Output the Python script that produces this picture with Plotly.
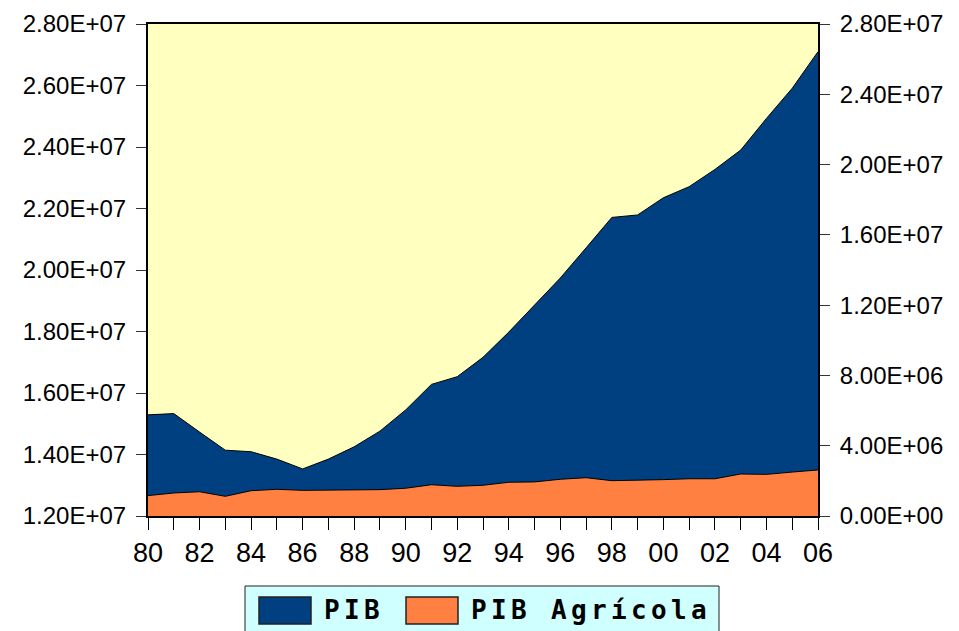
import plotly.graph_objects as go

# datos
anios = list(range(1980, 2007))
pib = [15.29, 15.33, 14.73, 14.14, 14.09, 13.85, 13.53, 13.85, 14.25, 14.76,
       15.45, 16.28, 16.53, 17.16, 17.98, 18.86, 19.74, 20.72, 21.71, 21.79,
       22.35, 22.71, 23.27, 23.90, 24.93, 25.91, 27.10]
pib_agricola = [1.16, 1.31, 1.38, 1.12, 1.44, 1.52, 1.46, 1.48, 1.50, 1.50,
                1.58, 1.78, 1.69, 1.75, 1.92, 1.94, 2.09, 2.18, 2.01, 2.03,
                2.07, 2.12, 2.12, 2.39, 2.37, 2.50, 2.62]
pib = [v * 1e6 for v in pib]
pib_agricola = [v * 1e6 for v in pib_agricola]

ticks_izq = [12e6 + 2e6 * i for i in range(9)]
ticks_der = [4e6 * i for i in range(8)]
etiquetas_x = [f"{a % 100:02d}" if a % 2 == 0 else "" for a in anios]

AZUL = "rgb(0,64,128)"
NARANJA = "rgb(255,128,64)"
AMARILLO = "rgb(255,255,192)"

W, H = 959, 631
L, R, T, B = 148, 818, 24, 516


def px(x):
    return (x - L) / (R - L)


def py(y):
    return (B - y) / (B - T)


fig = go.Figure()
fig.add_trace(go.Scatter(x=anios, y=pib, name="PIB", fill="tozeroy",
                         fillcolor=AZUL, mode="lines",
                         line=dict(color="black", width=1), yaxis="y"))
fig.add_trace(go.Scatter(x=anios, y=pib_agricola, name="PIB Agrícola",
                         fill="tozeroy", fillcolor=NARANJA, mode="lines",
                         line=dict(color="black", width=1), yaxis="y2"))

fuente_y = dict(family="Liberation Sans, Arial", size=24, color="black")
fuente_x = dict(family="Liberation Sans, Arial", size=27, color="black")

fig.update_layout(
    width=W, height=H,
    margin=dict(l=L, r=W - R, t=T, b=H - B, autoexpand=False),
    paper_bgcolor="white",
    plot_bgcolor=AMARILLO,
    showlegend=False,
    xaxis=dict(range=[1980, 2006], tickvals=anios, ticktext=etiquetas_x,
               ticks="outside", ticklen=12, tickwidth=1, tickcolor="black",
               showgrid=False, zeroline=False, showline=True, mirror=True,
               linecolor="black", linewidth=2, tickfont=fuente_x,
               automargin=False),
    yaxis=dict(range=[12e6, 28e6], tickvals=ticks_izq,
               ticktext=[f"{v:.2E}" for v in ticks_izq],
               ticks="outside", ticklen=10, tickwidth=1, tickcolor="#333",
               ticklabelstandoff=5,
               showgrid=False, zeroline=False, showline=True,
               linecolor="black", linewidth=2, tickfont=fuente_y,
               automargin=False),
    yaxis2=dict(range=[0, 28e6], tickvals=ticks_der,
                ticktext=[f"{v:.2E}" for v in ticks_der],
                overlaying="y", side="right",
                ticks="outside", ticklen=10, tickwidth=1, tickcolor="#333",
                ticklabelstandoff=5,
                showgrid=False, zeroline=False, showline=True,
                linecolor="black", linewidth=2, tickfont=fuente_y,
                automargin=False),
)

# leyenda dibujada a mano (estilo EViews)
fig.add_shape(type="rect", xref="paper", yref="paper",
              x0=px(245), x1=px(719), y0=py(645), y1=py(586),
              fillcolor="rgb(208,255,255)", line=dict(color="#222", width=1),
              layer="above")
for x0, x1, col in [(259, 311, AZUL), (406, 458, NARANJA)]:
    fig.add_shape(type="rect", xref="paper", yref="paper",
                  x0=px(x0), x1=px(x1), y0=py(624), y1=py(597),
                  fillcolor=col, line=dict(color="#222", width=1.5),
                  layer="above")

# texto con espaciado ancho, letra por letra
leyenda_font = dict(family="DejaVu Sans Mono", size=26, color="black",
                    weight="bold")
PASO = 20
for x_ini, txt in [(331.5, "PIB"), (478.5, "PIB Agrícola")]:
    for i, ch in enumerate(txt):
        if ch == " ":
            continue
        fig.add_annotation(x=px(x_ini + i * PASO), y=py(610), xref="paper",
                           yref="paper", text=ch, showarrow=False,
                           xanchor="center", yanchor="middle",
                           font=leyenda_font)

fig.write_html("out.html", config={"displayModeBar": False},
               post_script="document.body.style.margin='0';")
